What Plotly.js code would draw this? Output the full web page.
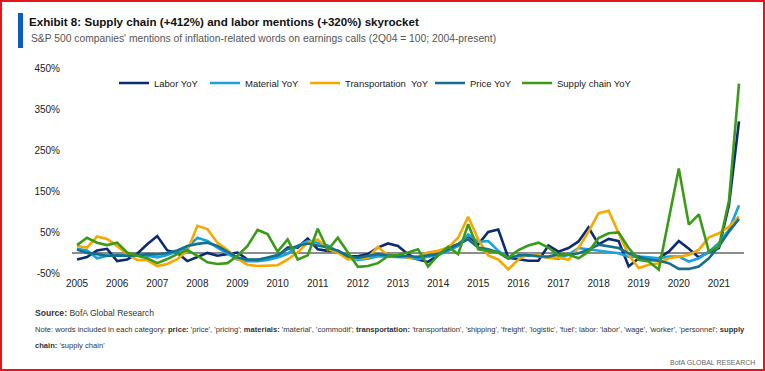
<!DOCTYPE html>
<html>
<head>
<meta charset="utf-8">
<script src="https://cdn.plot.ly/plotly-3.0.1.min.js"></script>
<style>
  html, body { margin: 0; padding: 0; background: #fff; }
  #wrap { position: relative; width: 765px; height: 371px; }
  #chart { width: 765px; height: 371px; }
  #frame { position: absolute; left: 0; top: 0; width: 765px; height: 371px; box-sizing: border-box; border: 2px solid #e8141b; pointer-events: none; }
</style>
</head>
<body>
<div id="wrap"><div id="chart"></div><div id="frame"></div></div>
<script>
// Quarterly categories, 1Q05 .. 3Q21
const quarters = [
  "1Q05","2Q05","3Q05","4Q05","1Q06","2Q06","3Q06","4Q06","1Q07","2Q07","3Q07","4Q07",
  "1Q08","2Q08","3Q08","4Q08","1Q09","2Q09","3Q09","4Q09","1Q10","2Q10","3Q10","4Q10",
  "1Q11","2Q11","3Q11","4Q11","1Q12","2Q12","3Q12","4Q12","1Q13","2Q13","3Q13","4Q13",
  "1Q14","2Q14","3Q14","4Q14","1Q15","2Q15","3Q15","4Q15","1Q16","2Q16","3Q16","4Q16",
  "1Q17","2Q17","3Q17","4Q17","1Q18","2Q18","3Q18","4Q18","1Q19","2Q19","3Q19","4Q19",
  "1Q20","2Q20","3Q20","4Q20","1Q21","2Q21","3Q21"
];
const tickQuarters = ["1Q05","1Q06","1Q07","1Q08","1Q09","1Q10","1Q11","1Q12","1Q13","1Q14","1Q15","1Q16","1Q17","1Q18","1Q19","1Q20","1Q21"];
const tickYears = ["2005","2006","2007","2008","2009","2010","2011","2012","2013","2014","2015","2016","2017","2018","2019","2020","2021"];
const yTickVals = [-50, 50, 150, 250, 350, 450];
const yTickText = ["-50%", "50%", "150%", "250%", "350%", "450%"];

const laborYoY = [-17,-11,5,9,-21,-17,-3,20,40,5,-1,-21,-11,-1,-8,-4,0,-17,-18,-14,-9,12,12,34,8,4,5,-9,-9,-4,12,22,16,-4,-17,-23,-7,12,20,40,20,50,56,-13,-17,-20,-20,17,2,11,27,61,20,33,28,-34,-14,-14,-14,2,28,9,-12,1,11,116,320];
const materialYoY = [9,5,-14,-8,-8,-6,-6,-8,-12,-6,3,12,36,28,12,-3,-17,-21,-21,-18,-12,-3,16,28,24,17,1,-13,-18,-15,-9,-10,-10,-12,-17,-10,-6,4,16,44,26,28,4,-13,-9,-7,-9,-13,-15,-5,11,8,4,2,-2,-10,-10,-12,-14,-10,-10,-22,-14,2,23,55,115];
const transportYoY = [16,12,39,33,16,-4,-18,-19,-33,-28,-16,4,65,57,24,6,-15,-30,-33,-32,-31,-17,0,24,32,8,0,-17,-15,-13,14,-7,-5,-13,-9,0,4,12,36,87,32,-7,-17,-41,-17,-4,-7,-13,-12,-18,11,51,96,102,47,-6,-38,-30,-26,-14,-10,-6,7,37,47,63,88];
const priceYoY = [7,-1,-4,-8,-7,-8,-7,-4,-5,-1,5,16,21,24,16,3,-12,-17,-18,-12,-6,8,16,22,17,12,4,-9,-13,-9,-4,-7,-9,-9,-11,-7,-4,8,20,32,12,8,0,-15,-7,-6,-9,-10,-4,-6,-2,7,19,15,11,-2,-10,-18,-20,-26,-40,-40,-34,-14,15,51,82];
const supplyChainYoY = [18,36,24,18,24,0,-8,-14,-26,-16,-4,6,-8,-24,-28,-26,-8,16,55,45,2,32,-17,-7,58,6,36,0,-35,-33,-26,-9,-6,0,8,-34,-7,14,-4,69,8,4,0,-13,6,17,24,12,-7,-5,-14,2,35,47,49,11,-18,-22,-42,82,205,68,93,2,15,126,412];

const seriesNames = ["Labor YoY","Material YoY","Transportation  YoY","Price YoY","Supply chain YoY"];
const seriesColors = ["#0b2c72","#1aa1e0","#f7a800","#15708e","#3a9b17"];
const seriesData = [laborYoY, materialYoY, transportYoY, priceYoY, supplyChainYoY];
const legendIds = ["legend","legend2","legend3","legend4","legend5"];

// pixel helpers (plot area: x 72..744, y 68..273)
const W = 765, H = 371, L = 72, R = 21, T = 68, B = 98;
const pw = W - L - R, ph = H - T - B;
const px = v => (v - L) / pw;
const py = v => (H - B - v) / ph;

const FONT = '"Liberation Sans", Arial, sans-serif';

const traces = seriesData.map((d, k) => ({
  type: "scatter", mode: "lines", x: quarters, y: d, name: seriesNames[k],
  line: { color: seriesColors[k], width: 2.6 },
  legend: legendIds[k], hoverinfo: "skip"
}));

const legendLeft = [114, 205, 305, 430, 517];
const legendCfg = {};
legendIds.forEach((id, k) => {
  legendCfg[id] = {
    orientation: "h", x: px(legendLeft[k]), xanchor: "left", y: py(83), yanchor: "middle",
    bgcolor: "rgba(0,0,0,0)", borderwidth: 0, itemwidth: 30,
    font: { family: FONT, size: 9.5, color: "#222" }
  };
});

const note1 = "Note: words included in each category: <b>price:</b> 'price', 'pricing'; <b>materials:</b> 'material', 'commodit'; <b>transportation:</b> 'transportation', 'shipping', 'freight', 'logistic', 'fuel'; labor: 'labor', 'wage', 'worker', 'personnel'; <b>supply</b>";
const note2 = "<b>chain:</b> 'supply chain'";
const footFont = { family: FONT, size: 7.6, color: "#333" };

const layout = Object.assign({
  width: W, height: H,
  margin: { l: L, r: R, t: T, b: B, pad: 0 },
  paper_bgcolor: "#ffffff", plot_bgcolor: "#ffffff",
  showlegend: true,
  font: { family: FONT, color: "#222" },
  title: {
    text: "<b>Exhibit 8: Supply chain (+412%) and labor mentions (+320%) skyrocket</b>",
    x: 29 / W, xref: "container", xanchor: "left",
    y: 1 - 22 / H, yref: "container", yanchor: "middle",
    font: { family: FONT, size: 11.6, color: "#111" }
  },
  xaxis: {
    type: "category", range: [-0.5, quarters.length - 0.5],
    tickmode: "array", tickvals: tickQuarters, ticktext: tickYears,
    showgrid: false, zeroline: false, showline: false, ticks: "",
    ticklabelstandoff: 3,
    tickfont: { family: FONT, size: 10, color: "#222" }
  },
  yaxis: {
    range: [-50, 450], tickmode: "array", tickvals: yTickVals, ticktext: yTickText,
    showgrid: false, showline: false, ticks: "",
    zeroline: true, zerolinecolor: "#8c8c8c", zerolinewidth: 2,
    ticklabelstandoff: 11,
    tickfont: { family: FONT, size: 10, color: "#222" }
  },
  shapes: [
    { type: "rect", xref: "paper", yref: "paper", x0: px(18), x1: px(23), y0: py(13), y1: py(48),
      fillcolor: "#0a5cc2", line: { width: 0 } }
  ],
  annotations: [
    { text: "S&P 500 companies' mentions of inflation-related words on earnings calls (2Q04 = 100; 2004-present)",
      xref: "paper", yref: "paper", x: px(29), y: py(38), xanchor: "left", yanchor: "middle",
      showarrow: false, font: { family: FONT, size: 10.3, color: "#555" } },
    { text: "<b>Source:</b> BofA Global Research", xref: "paper", yref: "paper",
      x: px(33), y: py(313), xanchor: "left", yanchor: "middle", showarrow: false,
      font: { family: FONT, size: 8.6, color: "#333" } },
    { text: note1, xref: "paper", yref: "paper",
      x: px(33), y: py(329), xanchor: "left", yanchor: "middle", showarrow: false, font: footFont },
    { text: note2, xref: "paper", yref: "paper",
      x: px(33), y: py(345), xanchor: "left", yanchor: "middle", showarrow: false, font: footFont },
    { text: "BofA GLOBAL RESEARCH", xref: "paper", yref: "paper",
      x: px(757), y: py(362), xanchor: "right", yanchor: "middle", showarrow: false,
      font: { family: FONT, size: 7, color: "#666" } }
  ]
}, legendCfg);

Plotly.newPlot("chart", traces, layout, { staticPlot: true, displayModeBar: false });
</script>
</body>
</html>
